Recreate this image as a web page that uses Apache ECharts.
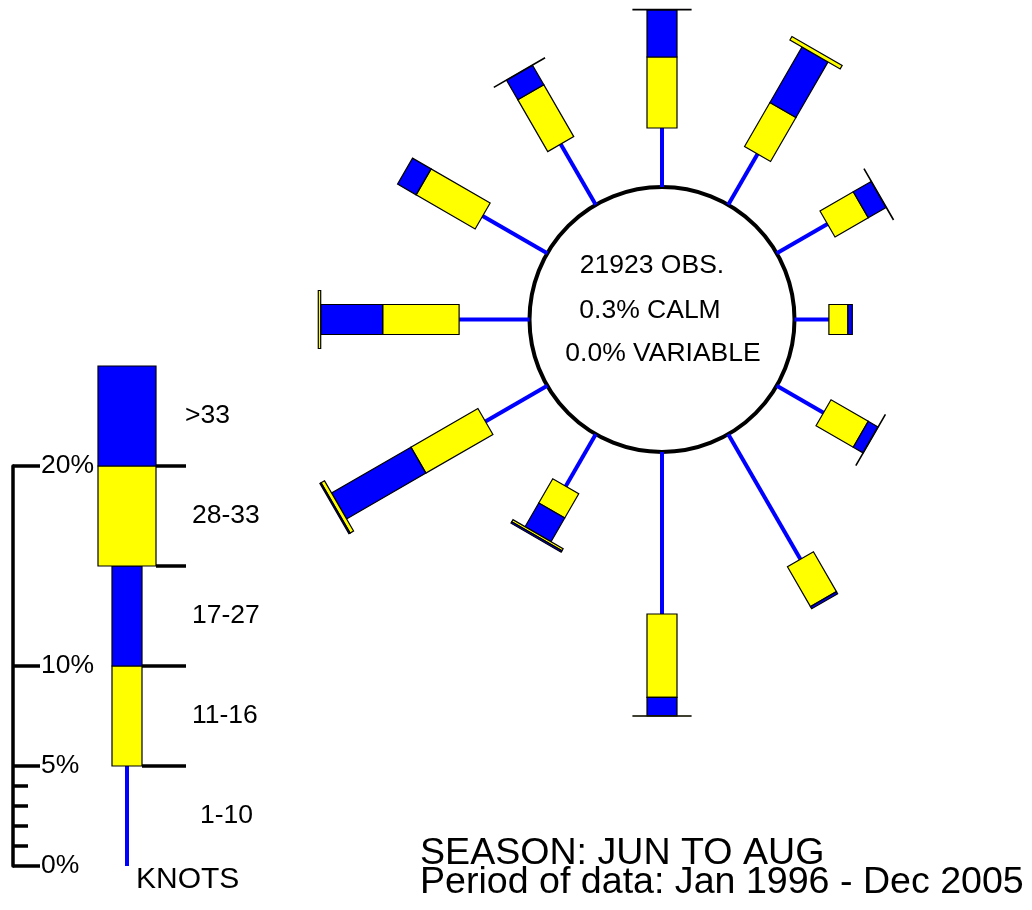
<!DOCTYPE html>
<html>
<head>
<meta charset="utf-8">
<title>Wind rose JUN TO AUG</title>
<script src="https://cdn.jsdelivr.net/npm/echarts@6/dist/echarts.min.js"></script>
<style>
  html, body { margin: 0; padding: 0; background: #fff; }
  #windRose { width: 1032px; height: 910px; }
</style>
</head>
<body>
<div id="windRose"></div>
<script>
// wind direction, degrees clockwise from north
const directions = [0, 30, 60, 90, 120, 150, 180, 210, 240, 270, 300, 330]
// percent of observations in each speed class (knots)
const pct1to10 = [2.95, 2.93, 2.93, 1.72, 2.7, 7.22, 8.1, 3.0, 3.57, 3.52, 3.73, 3.5]
const pct11to16 = [3.55, 2.54, 1.92, 0.95, 2.15, 2.3, 4.17, 1.4, 3.87, 3.82, 3.41, 3.0]
const pct17to27 = [2.35, 3.21, 1.03, 0.22, 0.56, 0.12, 0.92, 1.37, 4.58, 3.1, 1.07, 1.12]
const pct28to33 = [0.03, 0.2, 0.02, 0, 0.02, 0, 0.02, 0.12, 0.2, 0.12, 0, 0.02]
const pctOver33 = [0, 0, 0, 0, 0, 0, 0, 0.08, 0.07, 0, 0, 0]

const speedClasses = ['1-10', '11-16', '17-27', '28-33', '>33']
const legendBand = 5 // each class in the key is drawn as 5%
const scaleTicks = [0, 5, 10, 20]
const scaleMinorTicks = [1, 2, 3, 4]

const obsCount = 21923
const calmPct = 0.3
const variablePct = 0.0
const season = 'JUN TO AUG'
const period = 'Jan 1996 - Dec 2005'

// look
const FONT = '"Liberation Sans", Arial, Helvetica, sans-serif'
const YELLOW = '#ffff00'
const BLUE = '#0000ff'
const CALM_R = 6.625 // calm circle radius, in % units (20px per %)
const BAR_HALF = 0.75 // half width of 11-16 / 17-27 boxes
const CAP_HALF = 1.45 // half width of 28-33 / >33 caps
const KEY_X = 5.7 // key bar position on the key axis
const KEY_SEP_END = 8.65

let myChart = echarts.init(document.getElementById('windRose'))

function seg(p0, p1, color, width) {
  return {
    type: 'line',
    shape: { x1: p0[0], y1: p0[1], x2: p1[0], y2: p1[1] },
    style: { stroke: color, lineWidth: width },
  }
}

function poly(points, color) {
  return {
    type: 'polygon',
    shape: { points: points },
    style: { fill: color, stroke: '#000', lineWidth: 1.2 },
  }
}

function renderRose(params, api) {
  const a = (api.value(0) * Math.PI) / 180
  const ux = Math.sin(a)
  const uy = Math.cos(a)
  const px = Math.cos(a)
  const py = -Math.sin(a)
  const pt = (r, w) => api.coord([r * ux + w * px, r * uy + w * py])
  const box = (r0, r1, half, color) => poly([pt(r0, half), pt(r1, half), pt(r1, -half), pt(r0, -half)], color)
  const v = [1, 2, 3, 4, 5].map((k) => api.value(k))
  const children = []
  let r = CALM_R
  children.push(seg(pt(r, 0), pt(r + v[0], 0), BLUE, 4))
  r += v[0]
  if (v[1] > 0) children.push(box(r, r + v[1], BAR_HALF, YELLOW))
  r += v[1]
  if (v[2] > 0) children.push(box(r, r + v[2], BAR_HALF, BLUE))
  r += v[2]
  if (v[3] > 0) children.push(box(r, r + v[3], CAP_HALF, YELLOW))
  r += v[3]
  if (v[4] > 0) children.push(box(r, r + v[4], CAP_HALF, BLUE))
  return { type: 'group', children: children }
}

function renderCalm(params, api) {
  const c = api.coord([0, 0])
  const edge = api.coord([CALM_R, 0])
  const txt = (text, dx, dy) => ({
    type: 'text',
    style: {
      text: text,
      x: c[0] + dx,
      y: c[1] + dy,
      fill: '#000',
      fontSize: 26.5,
      fontFamily: FONT,
      align: 'center',
      verticalAlign: 'middle',
    },
  })
  return {
    type: 'group',
    children: [
      {
        type: 'circle',
        shape: { cx: c[0], cy: c[1], r: edge[0] - c[0] },
        style: { fill: '#fff', stroke: '#000', lineWidth: 4 },
      },
      txt(obsCount + ' OBS.', -10, -54),
      txt(calmPct.toFixed(1) + '% CALM', -12, -9),
      txt(variablePct.toFixed(1) + '% VARIABLE', 1, 34),
    ],
  }
}

// x offset of each class label from the end of its separator
const keyLabelShift = [14, 6, 6, 6, -1]

function renderKey(params, api) {
  const i = api.value(0)
  const y0 = i * legendBand
  const y1 = y0 + legendBand
  const children = []
  if (i === 0) {
    children.push(seg(api.coord([KEY_X, y0]), api.coord([KEY_X, y1]), BLUE, 4))
  } else {
    const half = i <= 2 ? BAR_HALF : CAP_HALF
    children.push(
      poly(
        [api.coord([KEY_X - half, y0]), api.coord([KEY_X + half, y0]), api.coord([KEY_X + half, y1]), api.coord([KEY_X - half, y1])],
        i % 2 === 1 ? YELLOW : BLUE
      )
    )
  }
  if (i < speedClasses.length - 1) {
    const half = i <= 1 ? BAR_HALF : CAP_HALF
    children.push(seg(api.coord([KEY_X + half, y1]), api.coord([KEY_SEP_END, y1]), '#000', 3.5))
  }
  const mid = api.coord([KEY_SEP_END, (y0 + y1) / 2])
  children.push({
    type: 'text',
    style: {
      text: speedClasses[i],
      x: mid[0] + keyLabelShift[i],
      y: mid[1],
      fill: '#000',
      fontSize: 26.5,
      fontFamily: FONT,
      align: 'left',
      verticalAlign: 'middle',
    },
  })
  if (i === 0) {
    const base = api.coord([KEY_X, 0])
    children.push({
      type: 'text',
      style: {
        text: 'KNOTS',
        x: base[0] + 9,
        y: base[1] + 14,
        fill: '#000',
        fontSize: 30,
        fontFamily: FONT,
        align: 'left',
        verticalAlign: 'middle',
      },
    })
  }
  return { type: 'group', children: children }
}

let roseData = directions.map((d, i) => [d, pct1to10[i], pct11to16[i], pct17to27[i], pct28to33[i], pctOver33[i]])
let keyData = speedClasses.map((s, i) => [i, i * legendBand])

let option = {
  animation: false,
  backgroundColor: '#fff',
  title: {
    text: 'SEASON: ' + season + '\nPeriod of data: ' + period,
    left: 420,
    top: 839,
    padding: 0,
    textStyle: { fontSize: 37.6, fontWeight: 'normal', fontFamily: FONT, color: '#000', lineHeight: 29 },
  },
  grid: [
    { left: 0, top: 0, right: 0, bottom: 0 },
    { left: 13, top: 466, width: 240, height: 400 },
  ],
  xAxis: [
    { type: 'value', gridIndex: 0, min: -33.1, max: 18.5, show: false },
    { type: 'value', gridIndex: 1, min: 0, max: 12, show: false },
  ],
  yAxis: [
    { type: 'value', gridIndex: 0, min: -29.525, max: 15.975, show: false },
    {
      type: 'value',
      gridIndex: 1,
      position: 'left',
      min: 0,
      max: 20,
      splitLine: { show: false },
      axisLine: { show: true, lineStyle: { color: '#000', width: 3.5 } },
      axisTick: { show: true, inside: true, length: 27, customValues: scaleTicks, lineStyle: { color: '#000', width: 3.5 } },
      axisLabel: {
        inside: true,
        margin: 28,
        customValues: scaleTicks,
        formatter: '{value}%',
        color: '#000',
        fontSize: 26.5,
        fontFamily: FONT,
      },
    },
    {
      type: 'value',
      gridIndex: 1,
      position: 'left',
      min: 0,
      max: 20,
      splitLine: { show: false },
      axisLine: { show: false },
      axisTick: { show: true, inside: true, length: 15, customValues: scaleMinorTicks, lineStyle: { color: '#000', width: 3.5 } },
      axisLabel: { show: false },
    },
  ],
  series: [
    {
      name: 'calm',
      type: 'custom',
      xAxisIndex: 0,
      yAxisIndex: 0,
      z: 1,
      renderItem: renderCalm,
      data: [[0, 0]],
    },
    {
      name: 'rose',
      type: 'custom',
      xAxisIndex: 0,
      yAxisIndex: 0,
      z: 2,
      clip: false,
      renderItem: renderRose,
      data: roseData,
    },
    {
      name: 'key',
      type: 'custom',
      xAxisIndex: 1,
      yAxisIndex: 1,
      z: 2,
      clip: false,
      renderItem: renderKey,
      data: keyData,
    },
  ],
}
myChart.setOption(option, true)
window.addEventListener('resize', () => {
  myChart.resize()
})
</script>
</body>
</html>
